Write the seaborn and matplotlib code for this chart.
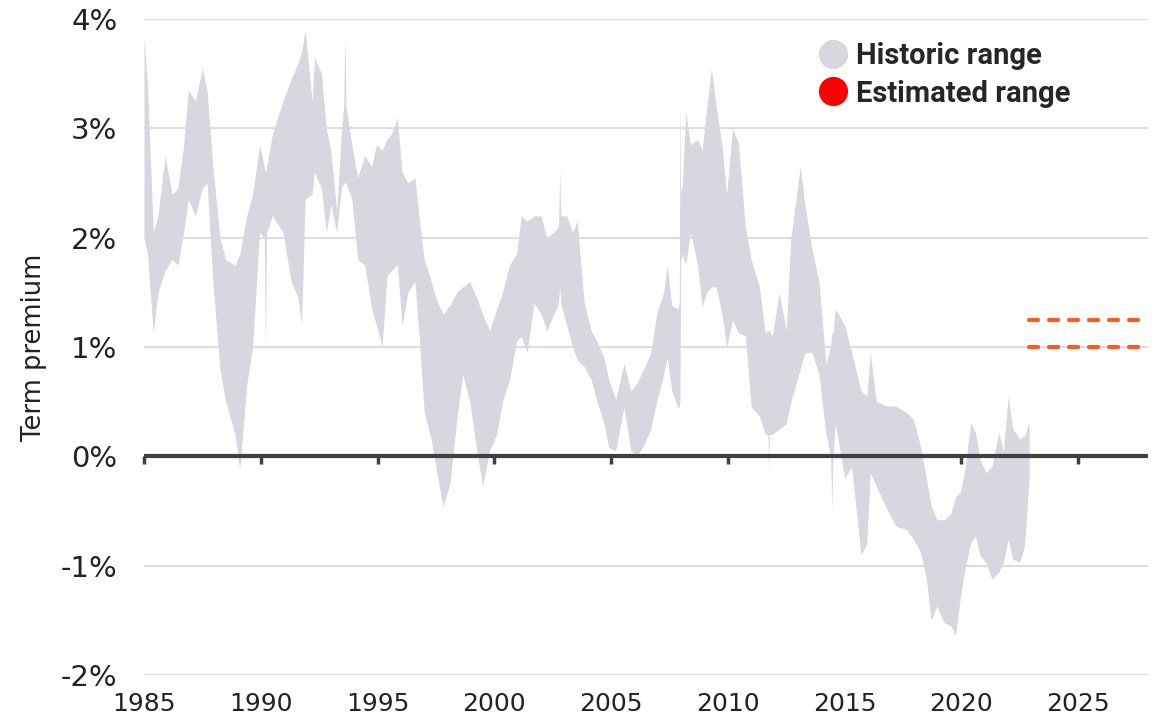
import matplotlib
matplotlib.use("Agg")
import matplotlib.pyplot as plt
import seaborn as sns
from matplotlib.lines import Line2D

# Term premium historic range (upper / lower edge of the band)
years = [1985.0, 1985.15, 1985.4, 1985.6, 1985.9, 1986.2, 1986.45, 1986.7, 1986.9, 1987.2,
         1987.5, 1987.7, 1987.95, 1988.25, 1988.5, 1988.9, 1989.1, 1989.4, 1989.65, 1989.95,
         1990.15, 1990.2, 1990.25, 1990.5, 1990.95, 1991.3, 1991.6, 1991.75, 1991.9, 1992.2,
         1992.3, 1992.6, 1992.8, 1993.0, 1993.25, 1993.45, 1993.55, 1993.6, 1993.65, 1993.9,
         1994.15, 1994.45, 1994.75, 1994.95, 1995.2, 1995.4, 1995.6, 1995.85, 1996.05, 1996.3,
         1996.6, 1996.8, 1997.0, 1997.3, 1997.5, 1997.8, 1998.1, 1998.4, 1998.65, 1998.95,
         1999.25, 1999.5, 1999.8, 2000.1, 2000.35, 2000.65, 2000.95, 2001.15, 2001.4, 2001.7,
         2002.0, 2002.25, 2002.55, 2002.75, 2002.8, 2002.85, 2003.1, 2003.35, 2003.55, 2003.85,
         2004.15, 2004.4, 2004.7, 2004.9, 2005.2, 2005.55, 2005.85, 2006.1, 2006.4, 2006.7,
         2006.95, 2007.25, 2007.4, 2007.6, 2007.85, 2007.92, 2007.95, 2007.98, 2008.05, 2008.2,
         2008.4, 2008.7, 2008.9, 2009.1, 2009.3, 2009.5, 2009.75, 2009.95, 2010.2, 2010.45,
         2010.75, 2011.0, 2011.35, 2011.6, 2011.72, 2011.75, 2011.78, 2011.9, 2012.2, 2012.5,
         2012.7, 2013.1, 2013.3, 2013.6, 2013.9, 2014.2, 2014.4, 2014.45, 2014.5, 2014.6,
         2015.0, 2015.3, 2015.45, 2015.7, 2015.95, 2016.1, 2016.35, 2016.8, 2017.2, 2017.65,
         2017.95, 2018.25, 2018.5, 2018.7, 2018.95, 2019.25, 2019.55, 2019.75, 2019.95, 2020.15,
         2020.4, 2020.6, 2020.8, 2021.05, 2021.3, 2021.6, 2021.8, 2022.0, 2022.2, 2022.5,
         2022.7, 2022.9]
upper = [3.85, 3.4, 2.05, 2.2, 2.75, 2.4, 2.45, 2.85, 3.35, 3.25,
         3.55, 3.35, 2.65, 2.0, 1.8, 1.75, 1.85, 2.2, 2.4, 2.85,
         2.65, 2.6, 2.65, 2.95, 3.25, 3.45, 3.6, 3.7, 3.9, 3.25,
         3.65, 3.5, 3.0, 2.8, 2.25, 2.95, 3.2, 3.87, 3.2, 2.85,
         2.55, 2.75, 2.65, 2.85, 2.8, 2.9, 2.95, 3.1, 2.6, 2.5,
         2.55, 2.15, 1.8, 1.6, 1.45, 1.3, 1.38, 1.5, 1.55, 1.6,
         1.45, 1.3, 1.15, 1.35, 1.5, 1.75, 1.85, 2.2, 2.15, 2.2,
         2.2, 2.0, 2.05, 2.1, 2.62, 2.2, 2.2, 2.05, 2.15, 1.4,
         1.15, 1.05, 0.9, 0.7, 0.52, 0.85, 0.6, 0.67, 0.8, 0.95,
         1.3, 1.5, 1.75, 1.38, 1.35, 1.4, 3.3, 2.4, 2.5, 3.15,
         2.85, 2.9, 2.8, 3.2, 3.55, 3.2, 2.85, 2.4, 3.0, 2.87,
         2.1, 1.8, 1.55, 1.13, 1.15, 1.15, 1.15, 1.1, 1.5, 1.15,
         2.0, 2.65, 2.3, 1.9, 1.6, 0.85, 1.0, 1.15, 1.1, 1.35,
         1.2, 0.95, 0.82, 0.6, 0.55, 0.95, 0.5, 0.46, 0.46, 0.4,
         0.34, 0.09, -0.2, -0.45, -0.58, -0.58, -0.52, -0.37, -0.33, -0.12,
         0.31, 0.22, -0.03, -0.15, -0.09, 0.22, 0.04, 0.55, 0.25, 0.16,
         0.19, 0.31]
lower = [2.0, 1.85, 1.13, 1.5, 1.7, 1.8, 1.75, 2.05, 2.35, 2.2,
         2.45, 2.5, 1.6, 0.8, 0.5, 0.2, -0.12, 0.65, 1.0, 2.05,
         2.0, 0.95, 2.05, 2.2, 2.05, 1.6, 1.45, 1.2, 2.35, 2.4,
         2.6, 2.45, 2.05, 2.3, 2.05, 2.45, 2.5, 2.5, 2.5, 2.35,
         1.8, 1.75, 1.35, 1.2, 1.0, 1.65, 1.7, 1.75, 1.2, 1.5,
         1.6, 1.05, 0.4, 0.15, -0.1, -0.46, -0.25, 0.35, 0.75, 0.5,
         0.05, -0.27, 0.05, 0.2, 0.5, 0.7, 1.05, 1.1, 0.95, 1.4,
         1.3, 1.15, 1.3, 1.4, 1.55, 1.4, 1.2, 1.0, 0.88, 0.82,
         0.7, 0.5, 0.3, 0.08, 0.05, 0.45, 0.05, 0.0, 0.1, 0.25,
         0.5, 0.75, 0.9, 0.6, 0.45, 0.45, 0.5, 1.8, 1.85, 1.75,
         2.05, 1.75, 1.37, 1.5, 1.55, 1.55, 1.3, 1.0, 1.25, 1.13,
         1.1, 0.45, 0.37, 0.2, 0.2, -0.15, 0.2, 0.2, 0.25, 0.3,
         0.5, 0.8, 0.95, 0.95, 0.75, 0.2, 0.0, -0.5, 0.0, 0.3,
         -0.2, -0.1, -0.4, -0.9, -0.8, -0.15, -0.27, -0.48, -0.64, -0.67,
         -0.76, -0.88, -1.12, -1.5, -1.37, -1.52, -1.55, -1.64, -1.3, -1.03,
         -0.79, -0.73, -0.91, -0.97, -1.12, -1.06, -0.97, -0.76, -0.94, -0.97,
         -0.82, -0.21]

# Estimated range going forward
est_years = [2022.9, 2027.8]
est_low = 1.0
est_high = 1.25

x_ticks = [1985, 1990, 1995, 2000, 2005, 2010, 2015, 2020, 2025]
y_ticks = [-2, -1, 0, 1, 2, 3, 4]

band_color = "#d8d7e0"
est_color = "#ff5a1f"
axis_color = "#404040"

sns.set_theme(style="white")
plt.rcParams["font.family"] = ["DejaVu Sans"]

fig = plt.figure(figsize=(11.61, 7.23), dpi=100)
ax = fig.add_axes([0.124, 0.0664, 0.865, 0.9073])

ax.fill_between(years, lower, upper, color=band_color, lw=0, zorder=2)

for v in (est_low, est_high):
    sns.lineplot(x=est_years, y=[v, v], ax=ax, color=est_color, lw=3, zorder=4)
    line = ax.lines[-1]
    line.set_dashes((2.2, 2.6))
    line.set_dash_capstyle("round")

ax.set_xlim(1985, 2028)
ax.set_ylim(-2, 4)
ax.set_yticks(y_ticks)
ax.set_yticklabels([f"{t}%" for t in y_ticks])
ax.set_xticks(x_ticks)
ax.set_xticklabels([str(t) for t in x_ticks])
ax.yaxis.grid(True, color="#dedde5", lw=1.6)
ax.xaxis.grid(False)
ax.set_axisbelow(True)
for s in ax.spines.values():
    s.set_visible(False)
ax.tick_params(axis="x", length=0, pad=12, labelsize=18, labelcolor="#222222")
ax.tick_params(axis="y", length=0, pad=19, labelsize=21, labelcolor="#222222")

ax.set_ylabel("Term premium", fontsize=18.5, color="#222222")
ax.yaxis.set_label_coords(-0.097, 0.5)

# zero line with the year ticks hanging off it
ax.axhline(0, color=axis_color, lw=3, zorder=5, solid_capstyle="butt")
zero_ax = ax.secondary_xaxis(2 / 6)
zero_ax.set_xticks(x_ticks)
zero_ax.tick_params(direction="out", length=5.5, width=2.5, color=axis_color, labelbottom=False)
zero_ax.spines["bottom"].set_visible(False)
zero_ax.spines["top"].set_visible(False)

handles = [
    Line2D([], [], marker="o", ls="", markersize=20, markerfacecolor=band_color,
           markeredgecolor=band_color, label="Historic range"),
    Line2D([], [], marker="o", ls="", markersize=20, markerfacecolor="#ff0000",
           markeredgecolor="#ff0000", label="Estimated range"),
]
ax.legend(handles=handles, loc="upper left", bbox_to_anchor=(0.705, 0.942),
          bbox_transform=fig.transFigure, frameon=False,
          prop=dict(family="Roboto", weight="bold", size=21),
          handlelength=1.0, handletextpad=0.3, labelspacing=0.33,
          borderpad=0, borderaxespad=0)

fig.savefig("out.png", dpi=100)
